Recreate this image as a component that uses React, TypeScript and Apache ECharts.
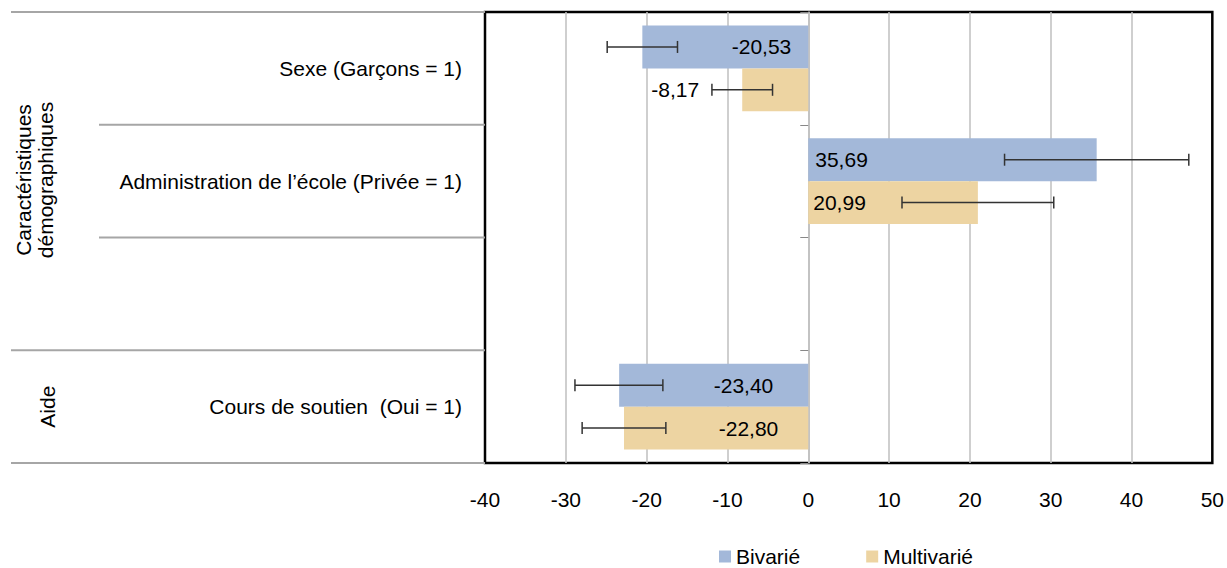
import React, { useEffect, useRef } from "react";
import * as echarts from "echarts";

const categories = [
  "Sexe (Garçons = 1)",
  "Administration de l’école (Privée = 1)",
  "",
  "Cours de soutien  (Oui = 1)",
];
const seriesNames = ["Bivarié", "Multivarié"];
const bivarie: (number | null)[] = [-20.53, 35.69, null, -23.4];
const multivarie: (number | null)[] = [-8.17, 20.99, null, -22.8];
const bivarieLow: (number | null)[] = [-24.88, 24.29, null, -28.87];
const bivarieHigh: (number | null)[] = [-16.18, 47.09, null, -17.99];
const multivarieLow: (number | null)[] = [-11.92, 11.6, null, -27.98];
const multivarieHigh: (number | null)[] = [-4.42, 30.38, null, -17.62];
const xMin = -40;
const xMax = 50;
const xInterval = 10;
const groupLabels = ["Caractéristiques\ndémographiques", "Aide"];

const FONT = "'Liberation Sans', Arial, sans-serif";
const FS = 21;
const BLUE = "#a3b8d9";
const BEIGE = "#edd4a2";

export default function App() {
  const ref = useRef<HTMLDivElement>(null);
  useEffect(() => {
    if (!ref.current) return;
    const chart = echarts.init(ref.current, undefined, { renderer: "svg" });

    const gridLeft = 485;
    const gridTop = 12;
    const gridBottomY = 463;
    const rowH = (gridBottomY - gridTop) / categories.length;
    const gapPct = 0.24;

    const fmt = (v: number) => v.toFixed(2).replace(".", ",");

    const bivLabel: any[] = [
      { position: "insideRight", distance: 17 },
      { position: "insideLeft", distance: 7 },
      {},
      { position: "insideRight", distance: 35 },
    ];
    const mulLabel: any[] = [
      { position: "left", distance: 43 },
      { position: "insideLeft", distance: 5 },
      {},
      { position: "insideRight", distance: 30 },
    ];

    const mkData = (vals: (number | null)[], lab: any[]) =>
      vals.map((v, i) => (v === null ? "-" : { value: v, label: lab[i] }));

    const errData: number[][] = [];
    categories.forEach((_, i) => {
      if (bivarieLow[i] !== null) errData.push([i, bivarieLow[i] as number, bivarieHigh[i] as number, 0]);
      if (multivarieLow[i] !== null) errData.push([i, multivarieLow[i] as number, multivarieHigh[i] as number, 1]);
    });

    const lineStyle = { stroke: "#a6a6a6", lineWidth: 2 };
    const sepLines = [
      { y: gridTop, x1: 11 },
      { y: gridTop + rowH, x1: 99 },
      { y: gridTop + 2 * rowH, x1: 99 },
      { y: gridTop + 3 * rowH, x1: 11 },
      { y: gridBottomY, x1: 11 },
    ].map((l) => ({
      type: "line",
      shape: { x1: l.x1, y1: l.y, x2: gridLeft, y2: l.y },
      style: lineStyle,
      silent: true,
    }));

    const option: any = {
      animation: false,
      textStyle: { fontFamily: FONT },
      grid: {
        left: gridLeft,
        right: 13,
        top: gridTop,
        bottom: 568 - gridBottomY,
        show: true,
        borderColor: "#000",
        borderWidth: 2.5,
        backgroundColor: "transparent",
      },
      legend: {
        data: seriesNames,
        left: 719,
        top: 546,
        padding: 0,
        icon: "rect",
        itemWidth: 12,
        itemHeight: 12,
        itemGap: 66,
        textStyle: { fontSize: FS, color: "#000", fontFamily: FONT },
      },
      xAxis: {
        type: "value",
        min: xMin,
        max: xMax,
        interval: xInterval,
        axisLine: { show: false },
        axisTick: { show: false },
        splitLine: {
          show: true,
          showMinLine: false,
          showMaxLine: false,
          lineStyle: { color: "#bfbfbf", width: 1.5 },
        },
        axisLabel: { fontSize: FS, color: "#000", margin: 26, fontFamily: FONT },
      },
      yAxis: [
        {
          type: "category",
          data: categories,
          inverse: true,
          position: "left",
          axisLine: { show: true, onZero: true, lineStyle: { color: "#bfbfbf", width: 1.5 } },
          axisTick: { show: true, length: 8, lineStyle: { color: "#888", width: 1 } },
          axisLabel: { show: false },
          splitLine: { show: false },
        },
        {
          type: "category",
          data: categories,
          inverse: true,
          position: "left",
          axisLine: { show: false, onZero: false },
          axisTick: { show: false },
          axisLabel: { show: true, margin: 23, fontSize: FS, color: "#000", fontFamily: FONT },
          splitLine: { show: false },
        },
      ],
      series: [
        {
          name: seriesNames[0],
          type: "bar",
          yAxisIndex: 0,
          data: mkData(bivarie, bivLabel),
          barGap: "0%",
          barCategoryGap: gapPct * 100 + "%",
          itemStyle: { color: BLUE },
          label: {
            show: true,
            fontSize: FS,
            color: "#000",
            fontFamily: FONT,
            formatter: (p: any) => fmt(p.value),
          },
        },
        {
          name: seriesNames[1],
          type: "bar",
          yAxisIndex: 0,
          data: mkData(multivarie, mulLabel),
          barGap: "0%",
          barCategoryGap: gapPct * 100 + "%",
          itemStyle: { color: BEIGE },
          label: {
            show: true,
            fontSize: FS,
            color: "#000",
            fontFamily: FONT,
            formatter: (p: any) => fmt(p.value),
          },
        },
        {
          type: "custom",
          yAxisIndex: 0,
          data: errData,
          encode: { x: [1, 2], y: 0 },
          z: 10,
          renderItem: (params: any, api: any) => {
            const cat = api.value(0);
            const lo = api.coord([api.value(1), cat]);
            const hi = api.coord([api.value(2), cat]);
            const s = api.value(3);
            const band = api.size([0, 1])[1];
            const total = band * (1 - gapPct);
            const bw = total / 2;
            const y = lo[1] - total / 2 + bw * (s + 0.5);
            const cap = 6;
            const st = { stroke: "#333", lineWidth: 1.5 };
            return {
              type: "group",
              children: [
                { type: "line", shape: { x1: lo[0], y1: y, x2: hi[0], y2: y }, style: st },
                { type: "line", shape: { x1: lo[0], y1: y - cap, x2: lo[0], y2: y + cap }, style: st },
                { type: "line", shape: { x1: hi[0], y1: y - cap, x2: hi[0], y2: y + cap }, style: st },
              ],
            };
          },
        },
      ],
      graphic: [
        ...sepLines,
        {
          type: "text",
          x: 34,
          y: 180,
          rotation: Math.PI / 2,
          style: {
            text: groupLabels[0],
            fill: "#000",
            fontSize: FS,
            fontFamily: FONT,
            align: "center",
            verticalAlign: "middle",
            lineHeight: 22,
          },
        },
        {
          type: "text",
          x: 47,
          y: gridTop + 3.5 * rowH,
          rotation: Math.PI / 2,
          style: {
            text: groupLabels[1],
            fill: "#000",
            fontSize: FS,
            fontFamily: FONT,
            align: "center",
            verticalAlign: "middle",
          },
        },
      ],
    };
    chart.setOption(option);
    return () => chart.dispose();
  }, []);
  return (
    <div
      ref={ref}
      style={{ position: "absolute", left: 0, top: 0, width: 1227, height: 568, background: "#fff" }}
    />
  );
}
